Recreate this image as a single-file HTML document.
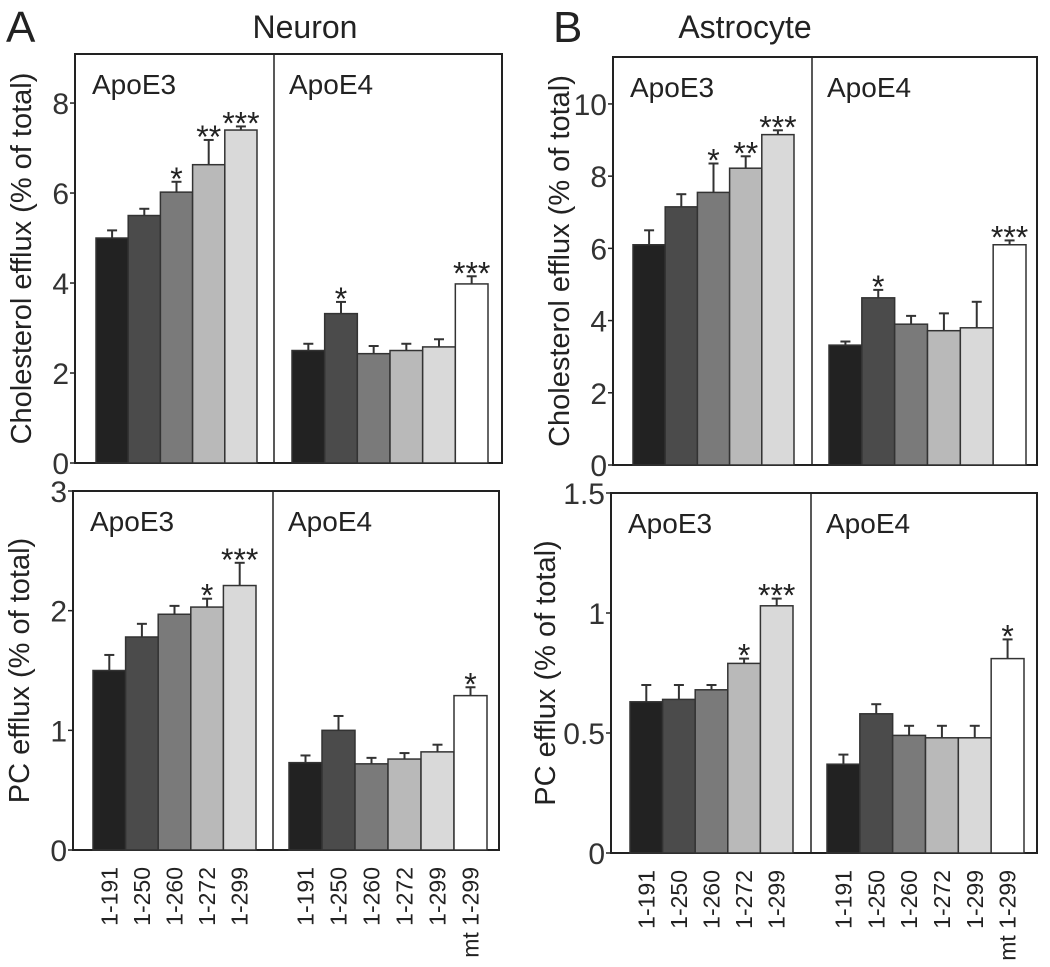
<!DOCTYPE html>
<html><head><meta charset="utf-8">
<style>body{margin:0;background:#fff}svg{display:block;font-family:"Liberation Sans",Arial,sans-serif}</style>
</head><body>
<svg id="fig" width="1050" height="967" viewBox="0 0 1050 967">
<text x="6" y="42" font-size="44" fill="#222">A</text>
<text x="305" y="38" font-size="32" text-anchor="middle" fill="#222">Neuron</text>
<text x="553" y="42" font-size="44" fill="#222">B</text>
<text x="745" y="38" font-size="32" text-anchor="middle" fill="#222">Astrocyte</text>
</svg>
<script>
const categoriesE3 = ["1-191","1-250","1-260","1-272","1-299"];
const categoriesE4 = ["1-191","1-250","1-260","1-272","1-299","mt 1-299"];
const neuronCholE3 = [5.0,5.5,6.02,6.63,7.4];
const neuronCholE3Err = [0.17,0.15,0.23,0.55,0.08];
const neuronCholE4 = [2.5,3.32,2.43,2.5,2.58,3.98];
const neuronCholE4Err = [0.15,0.26,0.17,0.15,0.17,0.17];
const neuronPCE3 = [1.5,1.78,1.97,2.03,2.21];
const neuronPCE3Err = [0.13,0.11,0.07,0.07,0.19];
const neuronPCE4 = [0.73,1.0,0.72,0.76,0.82,1.29];
const neuronPCE4Err = [0.06,0.12,0.05,0.05,0.06,0.07];
const astroCholE3 = [6.1,7.15,7.55,8.22,9.15];
const astroCholE3Err = [0.4,0.35,0.8,0.33,0.12];
const astroCholE4 = [3.32,4.63,3.9,3.72,3.8,6.1];
const astroCholE4Err = [0.1,0.22,0.23,0.48,0.72,0.12];
const astroPCE3 = [0.63,0.64,0.68,0.79,1.03];
const astroPCE3Err = [0.07,0.06,0.02,0.02,0.03];
const astroPCE4 = [0.37,0.58,0.49,0.48,0.48,0.81];
const astroPCE4Err = [0.04,0.04,0.04,0.05,0.05,0.08];
const sigNeuronCholE3 = ["","","*","**","***"];
const sigNeuronCholE4 = ["","*","","","","***"];
const sigNeuronPCE3 = ["","","","*","***"];
const sigNeuronPCE4 = ["","","","","","*"];
const sigAstroCholE3 = ["","","*","**","***"];
const sigAstroCholE4 = ["","*","","","","***"];
const sigAstroPCE3 = ["","","","*","***"];
const sigAstroPCE4 = ["","","","","","*"];
const ticksChol8 = [0,2,4,6,8];
const ticksChol10 = [0,2,4,6,8,10];
const ticksPC3 = [0,1,2,3];
const ticksPC15 = [0,0.5,1,1.5];
const tickLabelsPC15 = ["0","0.5","1","1.5"];

const colors = ["#222","#4b4b4b","#7a7a7a","#b9b9b9","#d9d9d9","#fff"];
const NS = "http://www.w3.org/2000/svg";
const svg = document.getElementById('fig');
function mk(tag, attrs, parent, txt){
  const e = document.createElementNS(NS, tag);
  for (const k in attrs) e.setAttribute(k, attrs[k]);
  if (txt !== undefined) e.textContent = txt;
  (parent||svg).appendChild(e);
  return e;
}
function panel(p){
  const g = mk('g', {});
  
  
  const y = v => p.bottom - (v / p.ymax) * (p.bottom - p.top);
  const fr = mk('rect', {x:p.left, y:p.top, width:p.right-p.left, height:p.bottom-p.top, fill:'none', stroke:'#222', 'stroke-width':2}, g);
  
  
  const dv = mk('line', {x1:p.div, x2:p.div, y1:p.top, y2:p.bottom, stroke:'#222', 'stroke-width':1.5}, g);
  
  
  p.ticks.forEach((t, i) => {
    const ty = y(t);
    const tl = mk('line', {x1:p.left-5, x2:p.left, y1:ty, y2:ty, stroke:'#222', 'stroke-width':1.5}, g);
    
    
    const tt = mk('text', {x:p.left-6, y:ty+11, 'font-size':30, 'text-anchor':'end', fill:'#333'}, g, p.tickLabels ? p.tickLabels[i] : String(t));
    
    
  });
  const cy = (p.top + p.bottom) / 2;
  const yt = mk('text', {x:0, y:0, 'font-size':29, 'text-anchor':'middle', fill:'#222', transform:`translate(${p.left-(p.ytOff||44)},${cy}) rotate(-90)`}, g, p.ytitle);
  
  
  const l3 = mk('text', {x:p.left+17, y:p.top+40, 'font-size':28, fill:'#222'}, g, 'ApoE3');
  
  
  const l4 = mk('text', {x:p.div+15, y:p.top+40, 'font-size':28, fill:'#222'}, g, 'ApoE4');
  
  
  [[p.e3, p.e3err, p.sig3, categoriesE3, p.e3x0, p.e3x1, 'apoe3'], [p.e4, p.e4err, p.sig4, categoriesE4, p.e4x0, p.e4x1, 'apoe4']].forEach(([vals, errs, sig, cats, x0, x1, grp]) => {
    const bw = (x1 - x0) / vals.length;
    vals.forEach((v, i) => {
      const bx = x0 + i * bw, cx = bx + bw / 2;
      const top = y(v), etop = y(v + errs[i]);
      const el = mk('line', {x1:cx, x2:cx, y1:top, y2:etop, stroke:'#333', 'stroke-width':2}, g);
      
      
      const ec = mk('line', {x1:cx-5, x2:cx+5, y1:etop, y2:etop, stroke:'#333', 'stroke-width':2}, g);
      
      
      const r = mk('rect', {x:bx, y:top, width:bw, height:p.bottom-top, fill:colors[i], stroke:'#333', 'stroke-width':1.5}, g);
      
      
      if (sig[i]) {
        const s = mk('text', {x:cx, y:etop + 8, 'font-size':32, 'text-anchor':'middle', fill:'#222'}, g, sig[i]);
        
        
      }
      if (p.xlabels) {
        const xl = mk('text', {x:0, y:0, 'font-size':23, 'text-anchor':'end', fill:'#222', transform:`translate(${cx+8},${p.bottom+17}) rotate(-90)`}, g, cats[i]);
        
        
      }
    });
  });
}
panel({name:'neuron-cholesterol-panel', left:75, right:502, top:54, bottom:463, div:274, ymax:9.09, ticks:ticksChol8, ytitle:'Cholesterol efflux (% of total)',
  e3:neuronCholE3, e3err:neuronCholE3Err, sig3:sigNeuronCholE3, e3x0:96, e3x1:257,
  e4:neuronCholE4, e4err:neuronCholE4Err, sig4:sigNeuronCholE4, e4x0:292, e4x1:488, xlabels:false});
panel({name:'neuron-pc-panel', left:73, right:499, top:491, bottom:850, div:273, ymax:3, ticks:ticksPC3, ytitle:'PC efflux (% of total)',
  e3:neuronPCE3, e3err:neuronPCE3Err, sig3:sigNeuronPCE3, e3x0:93, e3x1:256,
  e4:neuronPCE4, e4err:neuronPCE4Err, sig4:sigNeuronPCE4, e4x0:289, e4x1:487, xlabels:true});
panel({name:'astrocyte-cholesterol-panel', left:613, right:1037, top:57, bottom:465, div:812, ymax:11.3, ticks:ticksChol10, ytitle:'Cholesterol efflux (% of total)',
  e3:astroCholE3, e3err:astroCholE3Err, sig3:sigAstroCholE3, e3x0:633, e3x1:794,
  e4:astroCholE4, e4err:astroCholE4Err, sig4:sigAstroCholE4, e4x0:829, e4x1:1026, xlabels:false});
panel({name:'astrocyte-pc-panel', left:611, right:1037, top:493, bottom:853, div:811, ymax:1.5, ticks:ticksPC15, tickLabels:tickLabelsPC15, ytitle:'PC efflux (% of total)', ytOff:56,
  e3:astroPCE3, e3err:astroPCE3Err, sig3:sigAstroPCE3, e3x0:630, e3x1:793,
  e4:astroPCE4, e4err:astroPCE4Err, sig4:sigAstroPCE4, e4x0:827, e4x1:1024, xlabels:true});
</script>
</body></html>
